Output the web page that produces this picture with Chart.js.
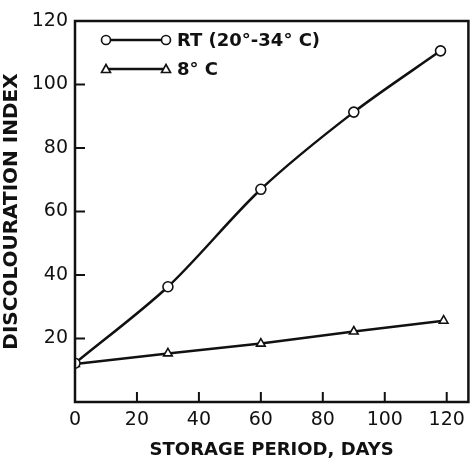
<!DOCTYPE html>
<html>
<head>
<meta charset="utf-8">
<script src="https://cdn.jsdelivr.net/npm/chart.js@4"></script>
<style>
  html, body { margin: 0; padding: 0; background: #fff; }
  #wrap { width: 475px; height: 461px; position: relative; }
</style>
</head>
<body>
<div id="wrap"><canvas id="chart" width="475" height="461"></canvas></div>
<script>
// storage period (days) and discolouration index
const daysRT = [0, 30, 60, 90, 118];
const indexRT = [12.2, 36.3, 67, 91.3, 110.6];
const days8C = [0, 30, 60, 90, 119];
const index8C = [12, 15.3, 18.4, 22.2, 25.6];

const xTicks = [0, 20, 40, 60, 80, 100, 120];
const yTicks = [20, 40, 60, 80, 100, 120];

const labelRT = 'RT (20°-34° C)';
const label8C = '8° C';

const ink = '#111';
const font = '"DejaVu Sans", sans-serif';

// frame, inward tick marks and the hand-style legend
const framePlugin = {
  id: 'frame',
  afterDatasetsDraw(chart) {
    const { ctx, chartArea: a, scales } = chart;
    ctx.save();
    ctx.strokeStyle = ink;
    ctx.lineWidth = 2.5;
    ctx.strokeRect(a.left, a.top, a.right - a.left, a.bottom - a.top);

    ctx.lineWidth = 2;
    ctx.beginPath();
    xTicks.forEach(v => {
      if (v === 0) return;
      const x = scales.x.getPixelForValue(v);
      ctx.moveTo(x, a.bottom);
      ctx.lineTo(x, a.bottom - 10);
    });
    yTicks.forEach(v => {
      const y = scales.y.getPixelForValue(v);
      ctx.moveTo(a.left, y);
      ctx.lineTo(a.left + 10, y);
    });
    ctx.stroke();

    // legend
    const rows = [
      { y: 40, label: labelRT, ds: chart.data.datasets[0] },
      { y: 69, label: label8C, ds: chart.data.datasets[1] }
    ];
    ctx.font = 'bold 18px ' + font;
    ctx.fillStyle = ink;
    ctx.textBaseline = 'middle';
    rows.forEach(r => {
      ctx.lineWidth = 2.5;
      ctx.beginPath();
      ctx.moveTo(106, r.y);
      ctx.lineTo(166, r.y);
      ctx.stroke();
      [106, 166].forEach(x => {
        ctx.lineWidth = 1.6;
        ctx.fillStyle = '#fff';
        ctx.beginPath();
        if (r.ds.pointStyle === 'triangle') {
          ctx.moveTo(x, r.y - 4.5);
          ctx.lineTo(x + 4.5, r.y + 3.5);
          ctx.lineTo(x - 4.5, r.y + 3.5);
          ctx.closePath();
        } else {
          ctx.arc(x, r.y, 4.5, 0, Math.PI * 2);
        }
        ctx.fill();
        ctx.stroke();
      });
      ctx.fillStyle = ink;
      ctx.fillText(r.label, 177, r.y + 1);
    });
    ctx.restore();
  }
};

new Chart(document.getElementById('chart'), {
  type: 'line',
  data: {
    datasets: [
      {
        label: labelRT,
        data: daysRT.map((d, i) => ({ x: d, y: indexRT[i] })),
        borderColor: ink,
        borderWidth: 2.5,
        tension: 0.3,
        pointStyle: 'circle',
        pointRadius: 5,
        pointBackgroundColor: '#fff',
        pointBorderColor: ink,
        pointBorderWidth: 1.6
      },
      {
        label: label8C,
        data: days8C.map((d, i) => ({ x: d, y: index8C[i] })),
        borderColor: ink,
        borderWidth: 2.5,
        tension: 0,
        pointStyle: 'triangle',
        pointRadius: 5,
        pointBackgroundColor: '#fff',
        pointBorderColor: ink,
        pointBorderWidth: 1.6
      }
    ]
  },
  options: {
    responsive: false,
    animation: false,
    layout: { padding: { left: 0, top: 21, right: 5, bottom: 0 } },
    plugins: {
      legend: { display: false },
      tooltip: { enabled: false }
    },
    scales: {
      x: {
        type: 'linear',
        min: 0,
        max: 127,
        afterBuildTicks: (s) => { s.ticks = xTicks.map(v => ({ value: v })); },
        afterFit: (s) => { s.height = 59; },
        grid: { display: false, drawTicks: false },
        border: { display: false },
        ticks: { color: ink, font: { size: 19, family: font }, padding: 7, maxRotation: 0, autoSkip: false },
        title: {
          display: true,
          text: 'STORAGE PERIOD, DAYS',
          color: ink,
          font: { size: 18, family: font, weight: 'bold' },
          padding: { top: 14, bottom: 0 }
        }
      },
      y: {
        min: 0,
        max: 120,
        afterBuildTicks: (s) => { s.ticks = yTicks.map(v => ({ value: v })); },
        afterFit: (s) => { s.width = 75; },
        grid: { display: false, drawTicks: false },
        border: { display: false },
        ticks: { color: ink, font: { size: 19, family: font }, padding: 7, autoSkip: false },
        title: {
          display: true,
          text: 'DISCOLOURATION INDEX',
          color: ink,
          font: { size: 20, family: font, weight: 'bold' },
          padding: { top: 0, bottom: 0 }
        }
      }
    }
  },
  plugins: [framePlugin]
});
</script>
</body>
</html>
